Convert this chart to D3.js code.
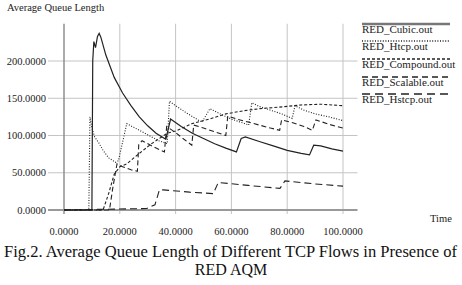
<!DOCTYPE html>
<html>
<head>
<meta charset="utf-8">
<script src="https://cdn.jsdelivr.net/npm/d3@7"></script>
<style>
  body { margin: 0; background: #fff; }
  svg { display: block; }
  svg text { font-family: "Liberation Serif", "Times New Roman", serif; }
</style>
</head>
<body>
<svg id="chart" width="462" height="285"></svg>
<script>
// values: [time, queue length]
var cubic = [[0,0],[10,0],[10.3,200],[10.7,226],[11.3,218],[12,233],[12.6,237],[13.2,232],
  [15,208],[18,178],[21,157],[24,140],[27,125],[30,113],[33,103],[36.5,95],[38.2,122],
  [42,112],[46,103],[50,96],[54,89],[58,83],[61.8,78],[63.5,96],[65,98],[70,92],[75,86],
  [80,80],[85,76],[88,74],[89.5,87],[92,86],[96,82],[100,79]];
var htcp = [[0,0],[8.9,0],[9.3,125],[10,110],[11,98],[12.5,90],[14,80],[16,70],[18.5,64],
  [19.5,66],[22.5,116],[25,111],[28,105],[31,99],[34,93],[37,89],[37.8,146],[40,140],
  [44,130],[48,121],[49.5,118],[52.3,136],[56,129],[60,122],[64,117],[66.2,114],[67.3,144],
  [70,139],[74,134],[78,129],[81.8,123],[82.8,140],[86,134],[90,129],[95,125],[100,120]];
var compound = [[0,0],[14,0],[16,22],[18,48],[20,58],[22.5,62],[27,76],[31,88],[35,98],
  [37,103],[40,106],[46,116],[52,122],[58,129],[64,133],[70,136],[77,138],[85,141],
  [92,142],[100,140]];
var scalable = [[0,0],[16.3,0],[17.5,30],[19,62],[21,58],[24,54],[26.3,52],[26.8,88],
  [28,93],[32,85],[36,78],[36.8,112],[40,104],[43,95],[45.8,87],[46.5,114],[50,110],
  [54,105],[58,100],[58.7,126],[62,122],[66,118],[70,114],[74,110],[77.3,107],[78,121],
  [82,117],[86,112],[89,107],[90.3,121],[95,115],[100,110]];
var hstcp = [[0,0],[29.6,2],[32.6,7],[34.2,27],[35.6,27],[45,24],[53.5,22],[55.3,37],
  [66,33],[77.4,29],[79.2,39],[90,35],[100,32]];

var seriesNames = ["RED_Cubic.out", "RED_Htcp.out", "RED_Compound.out", "RED_Scalable.out", "RED_Hstcp.out"];
var xTicks = [0, 20, 40, 60, 80, 100];
var yTicks = [0, 50, 100, 150, 200];

var svg = d3.select("#chart");

var x = d3.scaleLinear().domain([0, 100]).range([64, 343]);
var y = d3.scaleLinear().domain([0, 200]).range([210, 61]);

var styles = [
  {dash: null, width: 1.2},
  {dash: "1,1.6", width: 1.1},
  {dash: "3,2", width: 1.1},
  {dash: "5,3", width: 1.1},
  {dash: "7,4", width: 1.1}
];
var data = [cubic, htcp, compound, scalable, hstcp];

/* grid */
svg.append("g")
  .selectAll("line")
  .data(yTicks.slice(1))
  .join("line")
  .attr("x1", 48).attr("x2", x(105.2))
  .attr("y1", d => y(d)).attr("y2", d => y(d))
  .attr("stroke", "#c4c4c4").attr("stroke-width", 1);

svg.append("g")
  .selectAll("line")
  .data(xTicks.slice(1))
  .join("line")
  .attr("x1", d => x(d)).attr("x2", d => x(d))
  .attr("y1", y(250)).attr("y2", 214)
  .attr("stroke", "#c4c4c4").attr("stroke-width", 1);

/* axes */
svg.append("line")
  .attr("x1", x(0)).attr("x2", x(0))
  .attr("y1", y(250)).attr("y2", 214)
  .attr("stroke", "#888").attr("stroke-width", 1.4);
svg.append("line")
  .attr("x1", 48).attr("x2", x(105.2))
  .attr("y1", y(0)).attr("y2", y(0))
  .attr("stroke", "#999").attr("stroke-width", 1.8);

svg.append("g")
  .selectAll("text")
  .data(yTicks)
  .join("text")
  .attr("x", 46)
  .attr("y", d => y(d) + 3.5)
  .attr("text-anchor", "end")
  .attr("font-size", 10.5)
  .attr("fill", "#222")
  .text(d => d.toFixed(4));

svg.append("g")
  .selectAll("text")
  .data(xTicks)
  .join("text")
  .attr("x", d => x(d))
  .attr("y", 235)
  .attr("text-anchor", "middle")
  .attr("font-size", 10.5)
  .attr("fill", "#222")
  .text(d => d.toFixed(4));

svg.append("text")
  .attr("x", 7).attr("y", 11)
  .attr("font-size", 10.5)
  .attr("fill", "#222")
  .text("Average Queue Length");

svg.append("text")
  .attr("x", 430).attr("y", 222)
  .attr("font-size", 10.5)
  .attr("fill", "#222")
  .text("Time");

/* series */
var line = d3.line().x(d => x(d[0])).y(d => y(d[1]));
svg.append("g")
  .selectAll("path")
  .data(data)
  .join("path")
  .attr("d", line)
  .attr("fill", "none")
  .attr("stroke", "#222")
  .attr("stroke-width", (d, i) => styles[i].width)
  .attr("stroke-dasharray", (d, i) => styles[i].dash);

/* legend */
var legend = svg.append("g").attr("transform", "translate(362,0)");
var legY = [24, 41, 59, 77, 94];
legend.selectAll("line")
  .data(seriesNames)
  .join("line")
  .attr("x1", 0).attr("x2", 88)
  .attr("y1", (d, i) => legY[i]).attr("y2", (d, i) => legY[i])
  .attr("stroke", (d, i) => i == 0 ? "#777" : "#222")
  .attr("stroke-width", (d, i) => i == 0 ? 2.4 : 1.5)
  .attr("stroke-dasharray", (d, i) => i == 0 ? null : ["1,1.6", "3,2", "6,4", "8,5"][i - 1]);
legend.selectAll("text")
  .data(seriesNames)
  .join("text")
  .attr("x", 0)
  .attr("y", (d, i) => legY[i] + 9)
  .attr("font-size", 11)
  .attr("fill", "#222")
  .text(d => d);

/* caption */
svg.append("text")
  .attr("x", 4).attr("y", 257)
  .attr("font-size", 16)
  .attr("textLength", 453)
  .attr("lengthAdjust", "spacingAndGlyphs")
  .attr("fill", "#111")
  .text("Fig.2. Average Queue Length of Different TCP Flows in Presence of");
svg.append("text")
  .attr("x", 231).attr("y", 275)
  .attr("text-anchor", "middle")
  .attr("font-size", 16)
  .attr("fill", "#111")
  .text("RED AQM");
</script>
</body>
</html>
